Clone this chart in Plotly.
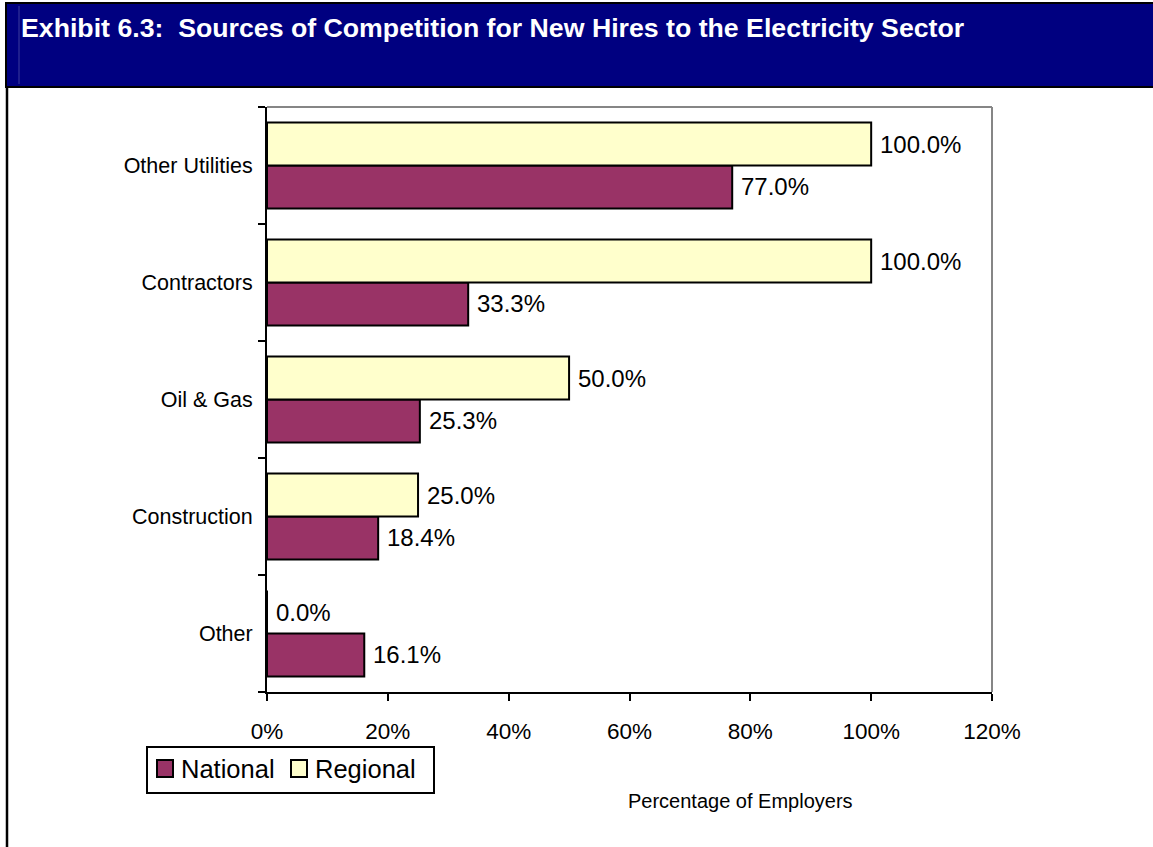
import plotly.graph_objects as go

# Data
categories = ["Other Utilities", "Contractors", "Oil & Gas", "Construction", "Other"]
national = [77.0, 33.3, 25.3, 18.4, 16.1]
regional = [100.0, 100.0, 50.0, 25.0, 0.0]
x_ticks = [0, 20, 40, 60, 80, 100, 120]
x_tick_labels = [f"{v}%" for v in x_ticks]

title_text = "Exhibit 6.3:  Sources of Competition for New Hires to the Electricity Sector"
x_title = "Percentage of Employers"

NAT_COLOR = "#993366"
REG_COLOR = "#FFFFCC"
FONT = "Arial, 'Liberation Sans', sans-serif"

# Page / plot-area geometry (pixels)
W, H = 1153, 847
L, R, T, B = 267, 992, 107, 692


def px_x(x):
    return (x - L) / (R - L)


def px_y(y):
    return (B - y) / (B - T)


fig = go.Figure()
fig.add_trace(go.Bar(
    orientation="h", y=categories, x=national, name="National",
    marker=dict(color=NAT_COLOR, line=dict(color="black", width=2)),
))
fig.add_trace(go.Bar(
    orientation="h", y=categories, x=regional, name="Regional",
    marker=dict(color=REG_COLOR, line=dict(color="black", width=2)),
))

annotations = []
# value labels beside each bar
half = (B - T) / len(categories) * (1 - 0.265) / 4
for cat, nv, rv in zip(categories, national, regional):
    for v, shift in ((rv, half), (nv, -half)):
        annotations.append(dict(
            x=v, y=cat, xref="x", yref="y", text=f"{v:.1f}%",
            showarrow=False, xanchor="left", yanchor="middle",
            xshift=7, yshift=shift,
            font=dict(family=FONT, size=24, color="black"),
        ))

# header title
annotations.append(dict(
    x=px_x(19), y=px_y(28), xref="paper", yref="paper", text=f"<b>{title_text}</b>",
    showarrow=False, xanchor="left", yanchor="middle",
    font=dict(family=FONT, size=26.7, color="white"),
))
# axis title
annotations.append(dict(
    x=px_x(740), y=px_y(801), xref="paper", yref="paper", text=x_title,
    showarrow=False, xanchor="center", yanchor="middle",
    font=dict(family=FONT, size=20, color="black"),
))
# legend labels
for label, lx in (("National", 179), ("Regional", 313)):
    annotations.append(dict(
        x=px_x(lx), y=px_y(769), xref="paper", yref="paper", text=label,
        showarrow=False, xanchor="left", yanchor="middle",
        font=dict(family=FONT, size=25.5, color="black"),
    ))

shapes = [
    # header band
    dict(type="rect", xref="paper", yref="paper",
         x0=px_x(6), x1=px_x(1165), y0=px_y(87), y1=px_y(3),
         fillcolor="#000080", line=dict(color="black", width=2), layer="below"),
    dict(type="line", xref="paper", yref="paper",
         x0=px_x(19), x1=px_x(19), y0=px_y(84), y1=px_y(6),
         line=dict(color="#3c3c9c", width=1), layer="below"),
    # left page border
    dict(type="line", xref="paper", yref="paper",
         x0=px_x(7), x1=px_x(7), y0=px_y(87), y1=px_y(860),
         line=dict(color="black", width=2.5)),
    # plot-area frame (top and right)
    dict(type="line", xref="paper", yref="paper", x0=0, x1=1, y0=1, y1=1,
         line=dict(color="#868686", width=2), layer="below"),
    dict(type="line", xref="paper", yref="paper", x0=1, x1=1, y0=0, y1=1,
         line=dict(color="#868686", width=2), layer="below"),
    # legend box and swatches
    dict(type="rect", xref="paper", yref="paper",
         x0=px_x(147), x1=px_x(434), y0=px_y(793), y1=px_y(747),
         fillcolor="white", line=dict(color="black", width=2)),
    dict(type="rect", xref="paper", yref="paper",
         x0=px_x(157), x1=px_x(173), y0=px_y(777), y1=px_y(760),
         fillcolor=NAT_COLOR, line=dict(color="black", width=2)),
    dict(type="rect", xref="paper", yref="paper",
         x0=px_x(291), x1=px_x(307), y0=px_y(777), y1=px_y(760),
         fillcolor=REG_COLOR, line=dict(color="black", width=2)),
]

fig.update_layout(
    width=W, height=H,
    margin=dict(l=L, r=W - R, t=T, b=H - B, pad=0),
    paper_bgcolor="white", plot_bgcolor="white",
    barmode="group", bargap=0.265, bargroupgap=0,
    showlegend=False,
    font=dict(family=FONT, color="black"),
    annotations=annotations, shapes=shapes,
    xaxis=dict(
        range=[0, 120], tickmode="array", tickvals=x_ticks, ticktext=x_tick_labels,
        showline=True, linecolor="black", linewidth=2,
        ticks="outside", ticklen=7, tickwidth=2, tickcolor="black",
        tickfont=dict(family=FONT, size=22.5, color="black"),
        showgrid=False, zeroline=False, ticklabelstandoff=11,
    ),
    yaxis=dict(
        type="category", categoryorder="array", categoryarray=categories[::-1],
        showline=True, linecolor="black", linewidth=2,
        ticks="outside", tickson="boundaries", ticklen=7, tickwidth=2,
        tickcolor="black",
        tickfont=dict(family=FONT, size=21.5, color="black"),
        showgrid=False, zeroline=False, ticklabelstandoff=8,
    ),
)

fig.write_html("out.html")
